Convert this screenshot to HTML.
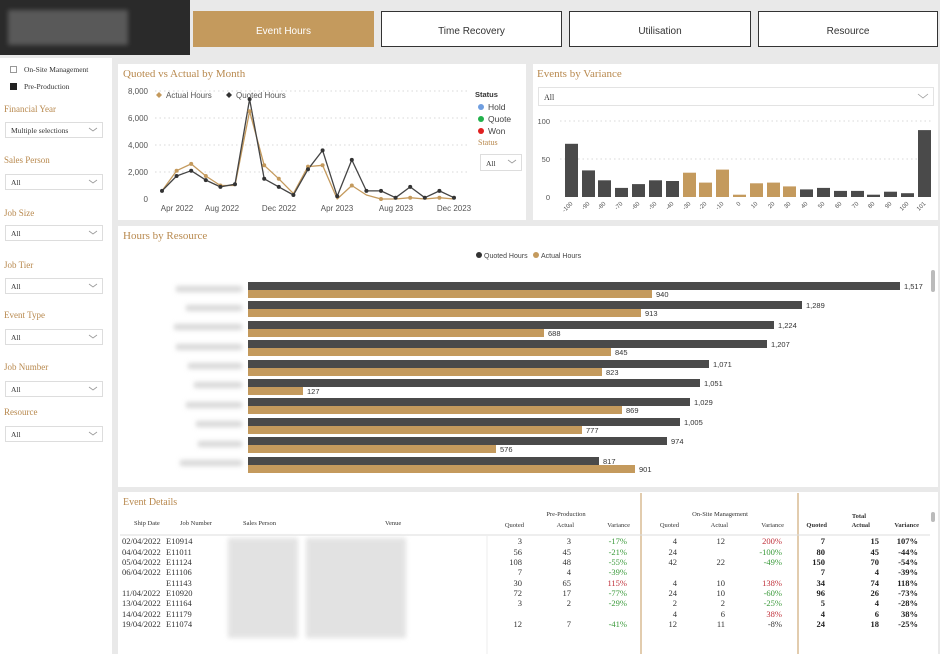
<!DOCTYPE html>
<html><head><meta charset="utf-8"><style>
body{margin:0;background:#e9e9e9;width:940px;height:654px;overflow:hidden;font-family:"Liberation Sans",sans-serif}
svg{display:block}
.s{font-family:"Liberation Serif",serif}
</style></head><body>
<svg width="940" height="654" viewBox="0 0 940 654" xmlns="http://www.w3.org/2000/svg">
<defs><filter id="bl"><feGaussianBlur stdDeviation="2.5"/></filter></defs>
<rect width="940" height="654" fill="#e9e9e9"/>
<!-- logo -->
<rect x="0" y="0" width="190" height="55" fill="#2a2a2a"/>
<rect x="8" y="10" width="120" height="35" fill="#888" filter="url(#bl)" opacity=".5"/>
<!-- top buttons -->
<rect x="193" y="11" width="181" height="36" fill="#c49a5d"/>
<text x="283.5" y="34" font-size="10" fill="#fff" text-anchor="middle">Event Hours</text>
<rect x="381.5" y="11.5" width="180" height="35" fill="#fff" stroke="#333"/>
<text x="471.5" y="34" font-size="10" fill="#333" text-anchor="middle">Time Recovery</text>
<rect x="569.5" y="11.5" width="181" height="35" fill="#fff" stroke="#333"/>
<text x="660" y="34" font-size="10" fill="#333" text-anchor="middle">Utilisation</text>
<rect x="758.5" y="11.5" width="179" height="35" fill="#fff" stroke="#333"/>
<text x="848" y="34" font-size="10" fill="#333" text-anchor="middle">Resource</text>

<!-- sidebar -->
<rect x="0" y="58" width="112" height="596" fill="#fff"/>
<g class="s" font-size="7.5" fill="#333">
<rect x="10.5" y="66.5" width="6" height="6" fill="#fff" stroke="#999"/>
<text x="24" y="72">On-Site Management</text>
<rect x="10" y="83" width="7" height="7" fill="#222"/>
<text x="24" y="89">Pre-Production</text>
</g>
<g class="s" font-size="9" fill="#b8894e">
<text x="4" y="112">Financial Year</text>
<text x="4" y="163">Sales Person</text>
<text x="4" y="216">Job Size</text>
<text x="4" y="268">Job Tier</text>
<text x="4" y="318">Event Type</text>
<text x="4" y="370">Job Number</text>
<text x="4" y="415">Resource</text>
</g>
<g class="s" font-size="7.5" fill="#333">
<rect x="5.5" y="122.5" width="97" height="15" fill="#fff" stroke="#ddd"/><text x="11" y="133">Multiple selections</text>
<rect x="5.5" y="174.5" width="97" height="15" fill="#fff" stroke="#ddd"/><text x="11" y="185">All</text>
<rect x="5.5" y="225.5" width="97" height="15" fill="#fff" stroke="#ddd"/><text x="11" y="236">All</text>
<rect x="5.5" y="278.5" width="97" height="15" fill="#fff" stroke="#ddd"/><text x="11" y="289">All</text>
<rect x="5.5" y="329.5" width="97" height="15" fill="#fff" stroke="#ddd"/><text x="11" y="340">All</text>
<rect x="5.5" y="381.5" width="97" height="15" fill="#fff" stroke="#ddd"/><text x="11" y="392">All</text>
<rect x="5.5" y="426.5" width="97" height="15" fill="#fff" stroke="#ddd"/><text x="11" y="437">All</text>
</g>
<g fill="none" stroke="#999" stroke-width="0.8">
<path d="M89 128l4 3 4-3M89 180l4 3 4-3M89 231l4 3 4-3M89 284l4 3 4-3M89 335l4 3 4-3M89 387l4 3 4-3M89 432l4 3 4-3"/>
</g>

<!-- Panel 1: line chart -->
<rect x="118" y="64" width="408" height="156" fill="#fff"/>
<text class="s" x="123" y="77" font-size="11" fill="#b8894e">Quoted vs Actual by Month</text>
<g stroke="#ccc" stroke-dasharray="1.5 3" stroke-width="0.8">
<line x1="155" y1="91" x2="470" y2="91"/><line x1="155" y1="118" x2="470" y2="118"/>
<line x1="155" y1="145" x2="470" y2="145"/><line x1="155" y1="172" x2="470" y2="172"/>
</g>
<g font-size="8" fill="#555" text-anchor="end">
<text x="148" y="94">8,000</text><text x="148" y="121">6,000</text><text x="148" y="148">4,000</text><text x="148" y="175">2,000</text><text x="148" y="202">0</text>
</g>
<g font-size="8" fill="#555" text-anchor="middle">
<text x="177" y="211">Apr 2022</text><text x="222" y="211">Aug 2022</text><text x="279" y="211">Dec 2022</text><text x="337" y="211">Apr 2023</text><text x="396" y="211">Aug 2023</text><text x="454" y="211">Dec 2023</text>
</g>
<g font-size="8" fill="#555">
<path d="M159 92l3 3-3 3-3-3z" fill="#c49a5d"/><text x="166" y="98">Actual Hours</text>
<path d="M229 92l3 3-3 3-3-3z" fill="#333"/><text x="236" y="98">Quoted Hours</text>
</g>
<polyline fill="none" stroke="#c49a5d" stroke-width="1.3" stroke-linejoin="round" points="162,190.9 176.6,170.7 191.2,163.9 205.8,176 220.4,185.5 235,185.5 249.6,111.2 264.2,165.3 278.8,178.8 293.4,193.6 308,166.6 322.6,165.3 337.2,199 351.8,185.5 366.4,195 381,199 395.6,199 410.2,197.7 424.8,199 439.4,197.7 454,199"/>
<polyline fill="none" stroke="#444" stroke-width="1.3" stroke-linejoin="round" points="162,190.9 176.6,176 191.2,170.7 205.8,180.1 220.4,186.9 235,184.2 249.6,99.1 264.2,178.8 278.8,186.9 293.4,195 308,169.3 322.6,150.4 337.2,196.3 351.8,159.9 366.4,190.9 381,190.9 395.6,197.7 410.2,186.9 424.8,197.7 439.4,190.9 454,197.7"/>
<g fill="#c49a5d">
<circle cx="176.6" cy="170.7" r="2"/><circle cx="191.2" cy="163.9" r="2"/><circle cx="205.8" cy="176" r="2"/><circle cx="220.4" cy="185.5" r="2"/><circle cx="249.6" cy="111.2" r="2"/><circle cx="264.2" cy="165.3" r="2"/><circle cx="278.8" cy="178.8" r="2"/><circle cx="308" cy="166.6" r="2"/><circle cx="322.6" cy="165.3" r="2"/><circle cx="351.8" cy="185.5" r="2"/><circle cx="410.2" cy="197.7" r="2"/><circle cx="439.4" cy="197.7" r="2"/><circle cx="381" cy="199" r="2"/>
</g>
<g fill="#333">
<circle cx="162" cy="190.9" r="2"/><circle cx="176.6" cy="176" r="2"/><circle cx="191.2" cy="170.7" r="2"/><circle cx="205.8" cy="180.1" r="2"/><circle cx="220.4" cy="186.9" r="2"/><circle cx="235" cy="184.2" r="2"/><circle cx="249.6" cy="99.1" r="2"/><circle cx="264.2" cy="178.8" r="2"/><circle cx="278.8" cy="186.9" r="2"/><circle cx="293.4" cy="195" r="2"/><circle cx="308" cy="169.3" r="2"/><circle cx="322.6" cy="150.4" r="2"/><circle cx="337.2" cy="196.3" r="2"/><circle cx="351.8" cy="159.9" r="2"/><circle cx="366.4" cy="190.9" r="2"/><circle cx="381" cy="190.9" r="2"/><circle cx="395.6" cy="197.7" r="2"/><circle cx="410.2" cy="186.9" r="2"/><circle cx="424.8" cy="197.7" r="2"/><circle cx="439.4" cy="190.9" r="2"/><circle cx="454" cy="197.7" r="2"/>
</g>
<text x="475" y="97" font-size="7.5" font-weight="bold" fill="#333">Status</text>
<g font-size="8.5" fill="#444">
<circle cx="481" cy="107" r="3" fill="#6f9ee0"/><text x="488" y="110">Hold</text>
<circle cx="481" cy="119" r="3" fill="#22b14c"/><text x="488" y="122">Quote</text>
<circle cx="481" cy="131" r="3" fill="#e02020"/><text x="488" y="134">Won</text>
</g>
<text class="s" x="478" y="145" font-size="8" fill="#b8894e">Status</text>
<rect x="480.5" y="154.5" width="41" height="16" fill="#fff" stroke="#ddd"/>
<text class="s" x="486" y="166" font-size="7.5" fill="#333">All</text>
<path d="M508 160l4 3 4-3" fill="none" stroke="#999" stroke-width="0.8"/>

<!-- Panel 2: variance bars -->
<rect x="533" y="64" width="405" height="156" fill="#fff"/>
<text class="s" x="537" y="77" font-size="11" fill="#b8894e">Events by Variance</text>
<rect x="538.5" y="87.5" width="395" height="18" fill="#fff" stroke="#e3e3e3"/>
<text class="s" x="544" y="100" font-size="8" fill="#333">All</text>
<path d="M918 94l5 4 5-4" fill="none" stroke="#999" stroke-width="0.8"/>
<g stroke="#ccc" stroke-dasharray="1.5 3" stroke-width="0.8"><line x1="560" y1="121" x2="932" y2="121"/><line x1="560" y1="159" x2="932" y2="159"/></g>
<g font-size="7.5" fill="#555" text-anchor="end"><text x="550" y="124">100</text><text x="550" y="162">50</text><text x="550" y="200">0</text></g>
<g fill="#4a4a4a">
<rect x="565" y="143.8" width="13" height="53.2"/><rect x="582" y="170.4" width="13" height="26.6"/><rect x="598" y="180.3" width="13" height="16.7"/><rect x="615" y="187.9" width="13" height="9.1"/><rect x="632" y="184.1" width="13" height="12.9"/><rect x="649" y="180.3" width="13" height="16.7"/><rect x="666" y="181" width="13" height="16"/>
<rect x="800" y="189.4" width="13" height="7.6"/><rect x="817" y="187.9" width="13" height="9.1"/><rect x="834" y="190.9" width="13" height="6.1"/><rect x="851" y="190.9" width="13" height="6.1"/><rect x="867" y="194.7" width="13" height="2.3"/><rect x="884" y="191.7" width="13" height="5.3"/><rect x="901" y="193.2" width="13" height="3.8"/><rect x="918" y="130.1" width="13" height="66.9"/>
</g>
<g fill="#c49a5d">
<rect x="683" y="172.7" width="13" height="24.3"/><rect x="699" y="182.6" width="13" height="14.4"/><rect x="716" y="169.6" width="13" height="27.4"/><rect x="733" y="194.7" width="13" height="2.3"/><rect x="750" y="183.3" width="13" height="13.7"/><rect x="767" y="182.6" width="13" height="14.4"/><rect x="783" y="186.4" width="13" height="10.6"/>
</g>
<g font-size="6" fill="#555" text-anchor="end">
<text transform="translate(573,204) rotate(-45)">-100</text><text transform="translate(590,204) rotate(-45)">-90</text><text transform="translate(606,204) rotate(-45)">-80</text><text transform="translate(623,204) rotate(-45)">-70</text><text transform="translate(640,204) rotate(-45)">-60</text><text transform="translate(657,204) rotate(-45)">-50</text><text transform="translate(674,204) rotate(-45)">-40</text><text transform="translate(691,204) rotate(-45)">-30</text><text transform="translate(707,204) rotate(-45)">-20</text><text transform="translate(724,204) rotate(-45)">-10</text><text transform="translate(741,204) rotate(-45)">0</text><text transform="translate(758,204) rotate(-45)">10</text><text transform="translate(775,204) rotate(-45)">20</text><text transform="translate(791,204) rotate(-45)">30</text><text transform="translate(808,204) rotate(-45)">40</text><text transform="translate(825,204) rotate(-45)">50</text><text transform="translate(842,204) rotate(-45)">60</text><text transform="translate(859,204) rotate(-45)">70</text><text transform="translate(875,204) rotate(-45)">80</text><text transform="translate(892,204) rotate(-45)">90</text><text transform="translate(909,204) rotate(-45)">100</text><text transform="translate(926,204) rotate(-45)">101</text>
</g>

<!-- Panel 3: Hours by Resource -->
<rect x="118" y="226" width="820" height="261" fill="#fff"/>
<text class="s" x="123" y="239" font-size="11" fill="#b8894e">Hours by Resource</text>
<g font-size="7" fill="#444">
<circle cx="479" cy="255" r="3" fill="#333"/><text x="484" y="258">Quoted Hours</text>
<circle cx="536" cy="255" r="3" fill="#c49a5d"/><text x="541" y="258">Actual Hours</text>
</g>
<g fill="#d8d8d8" filter="url(#bl)">
<rect x="176" y="286" width="66" height="6"/><rect x="186" y="305" width="56" height="6"/><rect x="174" y="324" width="68" height="6"/><rect x="176" y="344" width="66" height="6"/><rect x="188" y="363" width="54" height="6"/><rect x="194" y="382" width="48" height="6"/><rect x="186" y="402" width="56" height="6"/><rect x="196" y="421" width="46" height="6"/><rect x="198" y="441" width="44" height="6"/><rect x="180" y="460" width="62" height="6"/>
</g>
<g fill="#4a4a4a">
<rect x="248" y="282" width="652" height="8"/><rect x="248" y="301" width="554" height="8"/><rect x="248" y="321" width="526" height="8"/><rect x="248" y="340" width="519" height="8"/><rect x="248" y="360" width="461" height="8"/><rect x="248" y="379" width="452" height="8"/><rect x="248" y="398" width="442" height="8"/><rect x="248" y="418" width="432" height="8"/><rect x="248" y="437" width="419" height="8"/><rect x="248" y="457" width="351" height="8"/>
</g>
<g fill="#c49a5d">
<rect x="248" y="290" width="404" height="8"/><rect x="248" y="309" width="393" height="8"/><rect x="248" y="329" width="296" height="8"/><rect x="248" y="348" width="363" height="8"/><rect x="248" y="368" width="354" height="8"/><rect x="248" y="387" width="55" height="8"/><rect x="248" y="406" width="374" height="8"/><rect x="248" y="426" width="334" height="8"/><rect x="248" y="445" width="248" height="8"/><rect x="248" y="465" width="387" height="8"/>
</g>
<g font-size="7.5" fill="#333">
<text x="904" y="289">1,517</text><text x="656" y="297">940</text>
<text x="806" y="308">1,289</text><text x="645" y="316">913</text>
<text x="778" y="328">1,224</text><text x="548" y="336">688</text>
<text x="771" y="347">1,207</text><text x="615" y="355">845</text>
<text x="713" y="367">1,071</text><text x="606" y="375">823</text>
<text x="704" y="386">1,051</text><text x="307" y="394">127</text>
<text x="694" y="405">1,029</text><text x="626" y="413">869</text>
<text x="684" y="425">1,005</text><text x="586" y="433">777</text>
<text x="671" y="444">974</text><text x="500" y="452">576</text>
<text x="603" y="464">817</text><text x="639" y="472">901</text>
</g>
<rect x="931" y="270" width="4" height="22" rx="2" fill="#bbb"/>

<!-- Panel 4: table -->
<rect x="118" y="492" width="820" height="162" fill="#fff"/>
<text class="s" x="123" y="505" font-size="10" fill="#b8894e">Event Details</text>
<line x1="641" y1="493" x2="641" y2="654" stroke="#c49a5d"/>
<line x1="798" y1="493" x2="798" y2="654" stroke="#c49a5d"/>
<rect x="931" y="512" width="4" height="10" rx="2" fill="#bbb"/>
<g class="s" font-size="6.5" fill="#333">
<text x="134" y="525">Ship Date</text><text x="180" y="525">Job Number</text><text x="243" y="525">Sales Person</text><text x="385" y="525">Venue</text>
<text x="566" y="516" text-anchor="middle">Pre-Production</text>
<text x="524" y="527" text-anchor="end">Quoted</text><text x="574" y="527" text-anchor="end">Actual</text><text x="630" y="527" text-anchor="end">Variance</text>
<text x="720" y="516" text-anchor="middle">On-Site Management</text>
<text x="679" y="527" text-anchor="end">Quoted</text><text x="728" y="527" text-anchor="end">Actual</text><text x="784" y="527" text-anchor="end">Variance</text>
<text x="827" y="527" text-anchor="end" font-weight="bold">Quoted</text><text x="859" y="518" text-anchor="middle" font-weight="bold">Total</text><text x="870" y="527" text-anchor="end" font-weight="bold">Actual</text><text x="919" y="527" text-anchor="end" font-weight="bold">Variance</text>
</g>
<line x1="120" y1="535" x2="930" y2="535" stroke="#ddd"/>
<g fill="#dcdcdc" filter="url(#bl)" opacity=".8">
<rect x="228" y="538" width="70" height="100"/><rect x="306" y="538" width="100" height="100"/>
</g>
<line x1="487" y1="536" x2="487" y2="654" stroke="#eee"/>
<g class="s" font-size="8.5" fill="#333">
<text x="122" y="544">02/04/2022</text><text x="166" y="544">E10914</text>
<text x="122" y="555">04/04/2022</text><text x="166" y="555">E11011</text>
<text x="122" y="565">05/04/2022</text><text x="166" y="565">E11124</text>
<text x="122" y="575">06/04/2022</text><text x="166" y="575">E11106</text>
<text x="166" y="586">E11143</text>
<text x="122" y="596">11/04/2022</text><text x="166" y="596">E10920</text>
<text x="122" y="606">13/04/2022</text><text x="166" y="606">E11164</text>
<text x="122" y="617">14/04/2022</text><text x="166" y="617">E11179</text>
<text x="122" y="627">19/04/2022</text><text x="166" y="627">E11074</text>
</g>
<g class="s" font-size="8.5" fill="#333" text-anchor="end">
<text x="522" y="544">3</text><text x="571" y="544">3</text><text x="627" y="544" fill="#3a9a3a">-17%</text><text x="677" y="544">4</text><text x="725" y="544">12</text><text x="782" y="544" fill="#c0303a">200%</text>
<text x="522" y="555">56</text><text x="571" y="555">45</text><text x="627" y="555" fill="#3a9a3a">-21%</text><text x="677" y="555">24</text><text x="782" y="555" fill="#3a9a3a">-100%</text>
<text x="522" y="565">108</text><text x="571" y="565">48</text><text x="627" y="565" fill="#3a9a3a">-55%</text><text x="677" y="565">42</text><text x="725" y="565">22</text><text x="782" y="565" fill="#3a9a3a">-49%</text>
<text x="522" y="575">7</text><text x="571" y="575">4</text><text x="627" y="575" fill="#3a9a3a">-39%</text>
<text x="522" y="586">30</text><text x="571" y="586">65</text><text x="627" y="586" fill="#c0303a">115%</text><text x="677" y="586">4</text><text x="725" y="586">10</text><text x="782" y="586" fill="#c0303a">138%</text>
<text x="522" y="596">72</text><text x="571" y="596">17</text><text x="627" y="596" fill="#3a9a3a">-77%</text><text x="677" y="596">24</text><text x="725" y="596">10</text><text x="782" y="596" fill="#3a9a3a">-60%</text>
<text x="522" y="606">3</text><text x="571" y="606">2</text><text x="627" y="606" fill="#3a9a3a">-29%</text><text x="677" y="606">2</text><text x="725" y="606">2</text><text x="782" y="606" fill="#3a9a3a">-25%</text>
<text x="677" y="617">4</text><text x="725" y="617">6</text><text x="782" y="617" fill="#c0303a">38%</text>
<text x="522" y="627">12</text><text x="571" y="627">7</text><text x="627" y="627" fill="#3a9a3a">-41%</text><text x="677" y="627">12</text><text x="725" y="627">11</text><text x="782" y="627">-8%</text>
</g>
<g class="s" font-size="8.5" font-weight="bold" fill="#222" text-anchor="end">
<text x="825" y="544">7</text><text x="879" y="544">15</text><text x="918" y="544">107%</text>
<text x="825" y="555">80</text><text x="879" y="555">45</text><text x="918" y="555">-44%</text>
<text x="825" y="565">150</text><text x="879" y="565">70</text><text x="918" y="565">-54%</text>
<text x="825" y="575">7</text><text x="879" y="575">4</text><text x="918" y="575">-39%</text>
<text x="825" y="586">34</text><text x="879" y="586">74</text><text x="918" y="586">118%</text>
<text x="825" y="596">96</text><text x="879" y="596">26</text><text x="918" y="596">-73%</text>
<text x="825" y="606">5</text><text x="879" y="606">4</text><text x="918" y="606">-28%</text>
<text x="825" y="617">4</text><text x="879" y="617">6</text><text x="918" y="617">38%</text>
<text x="825" y="627">24</text><text x="879" y="627">18</text><text x="918" y="627">-25%</text>
</g>
</svg>
</body></html>
